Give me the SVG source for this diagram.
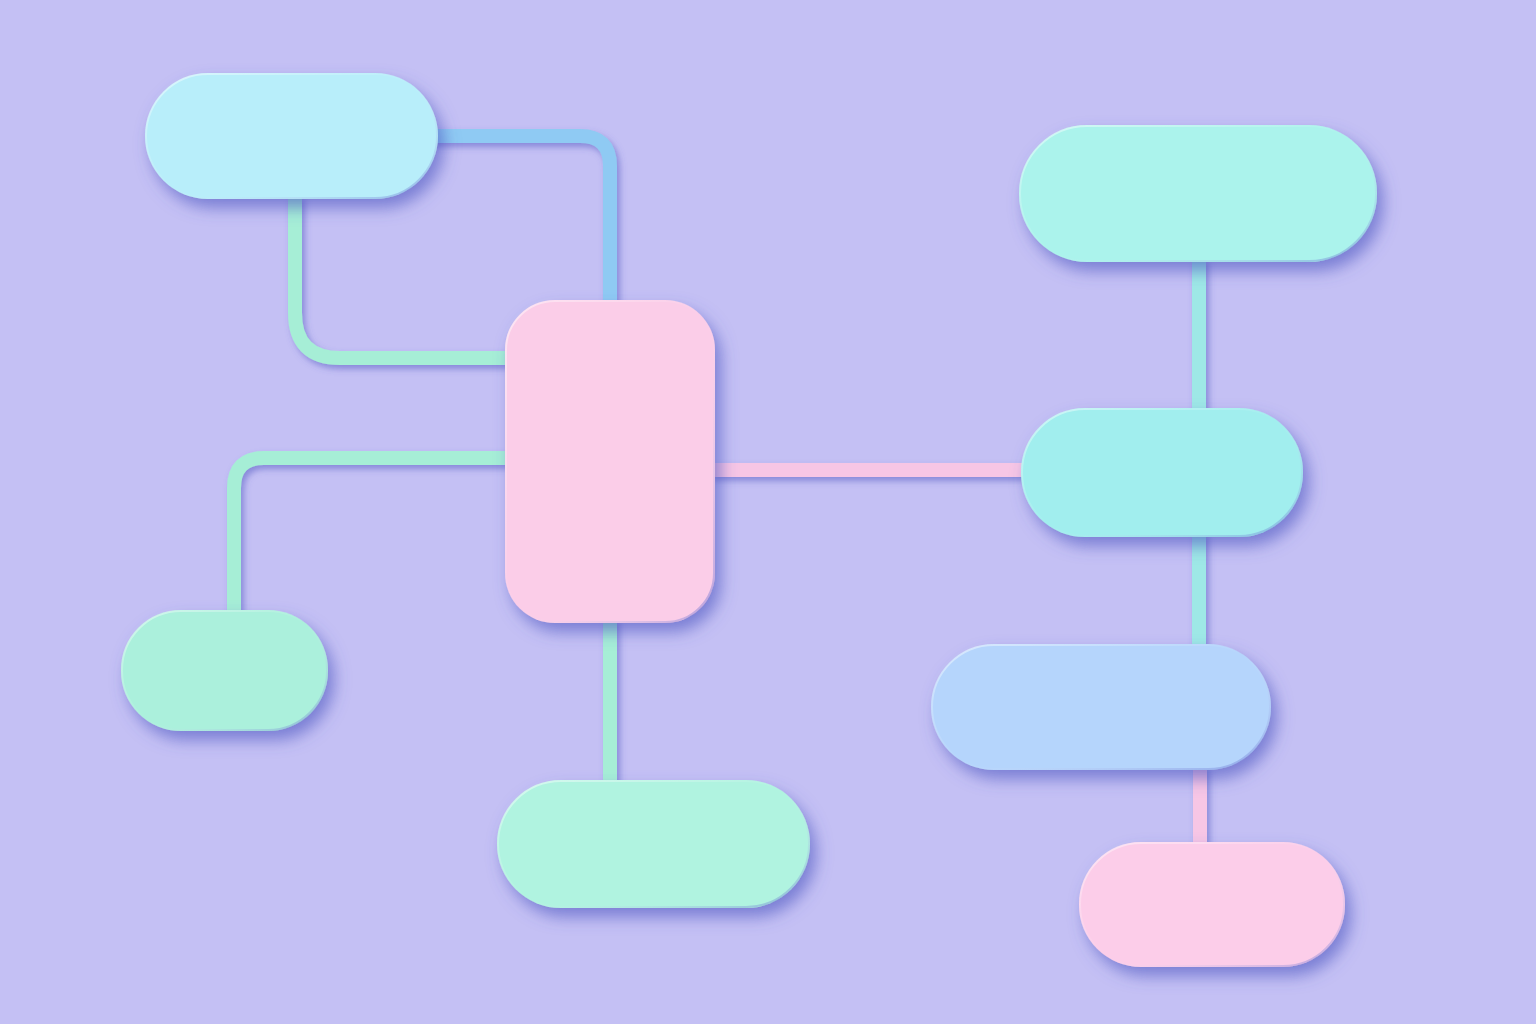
<svg xmlns="http://www.w3.org/2000/svg" width="1536" height="1024" viewBox="0 0 1536 1024">
  <defs>
    <filter id="nodeShadow" x="-20%" y="-20%" width="150%" height="160%">
      <feDropShadow dx="6" dy="9" stdDeviation="8" flood-color="#4a52c0" flood-opacity="0.6"/>
    </filter>
    <filter id="lineShadow" filterUnits="userSpaceOnUse" x="0" y="0" width="1536" height="1024">
      <feDropShadow dx="3" dy="4" stdDeviation="3" flood-color="#4a52c0" flood-opacity="0.5"/>
    </filter>
    <linearGradient id="rim" x1="0" y1="0" x2="1" y2="1">
      <stop offset="0" stop-color="#ffffff" stop-opacity="0.5"/>
      <stop offset="0.5" stop-color="#ffffff" stop-opacity="0"/>
      <stop offset="1" stop-color="#4a56c8" stop-opacity="0.4"/>
    </linearGradient>
  </defs>
  <style>
    .node { filter: url(#nodeShadow); }
    .rim { fill: none; stroke: url(#rim); stroke-width: 2; }
    .conn { fill: none; stroke-width: 14; stroke-linecap: butt; stroke-linejoin: round; filter: url(#lineShadow); }
    .blue { stroke: #8fcaf3; }
    .green { stroke: #a6eed6; }
    .pink { stroke: #f7c6e5; }
    .teal { stroke: #9ee8e6; }
  </style>
  <rect width="1536" height="1024" fill="#c4c0f4"/>

  <g id="connectors">
    <path class="conn blue" d="M 430 136 H 580 Q 610 136 610 166 V 305"/>
    <path class="conn green" d="M 295 195 V 313 Q 295 358 340 358 H 510"/>
    <path class="conn green" d="M 510 458 H 264 Q 234 458 234 488 V 615"/>
    <path class="conn green" d="M 610 618 V 785"/>
    <path class="conn pink" d="M 710 470 H 1027"/>
    <path class="conn teal" d="M 1199 258 V 413"/>
    <path class="conn teal" d="M 1199 532 V 649"/>
    <path class="conn pink" d="M 1200 765 V 847"/>
  </g>

  <g id="node-top-left" class="node">
    <rect x="145" y="73" width="293" height="126" rx="63" fill="#b8eefa"/>
    <rect class="rim" x="146" y="74" width="291" height="124" rx="62"/>
  </g>
  <g id="node-center" class="node">
    <rect x="505" y="300" width="210" height="323" rx="50" fill="#fbcde8"/>
    <rect class="rim" x="506" y="301" width="208" height="321" rx="49"/>
  </g>
  <g id="node-bottom-left" class="node">
    <rect x="121" y="610" width="207" height="121" rx="60" fill="#abf0dc"/>
    <rect class="rim" x="122" y="611" width="205" height="119" rx="59"/>
  </g>
  <g id="node-bottom" class="node">
    <rect x="497" y="780" width="313" height="128" rx="64" fill="#b0f3e0"/>
    <rect class="rim" x="498" y="781" width="311" height="126" rx="63"/>
  </g>
  <g id="node-right-top" class="node">
    <rect x="1019" y="125" width="358" height="137" rx="68" fill="#abf3ec"/>
    <rect class="rim" x="1020" y="126" width="356" height="135" rx="67"/>
  </g>
  <g id="node-right-middle" class="node">
    <rect x="1021" y="408" width="282" height="129" rx="64" fill="#a1eeee"/>
    <rect class="rim" x="1022" y="409" width="280" height="127" rx="63"/>
  </g>
  <g id="node-right-blue" class="node">
    <rect x="931" y="644" width="340" height="126" rx="63" fill="#b5d5fc"/>
    <rect class="rim" x="932" y="645" width="338" height="124" rx="62"/>
  </g>
  <g id="node-right-pink" class="node">
    <rect x="1079" y="842" width="266" height="125" rx="62" fill="#fccde9"/>
    <rect class="rim" x="1080" y="843" width="264" height="123" rx="61"/>
  </g>
</svg>
